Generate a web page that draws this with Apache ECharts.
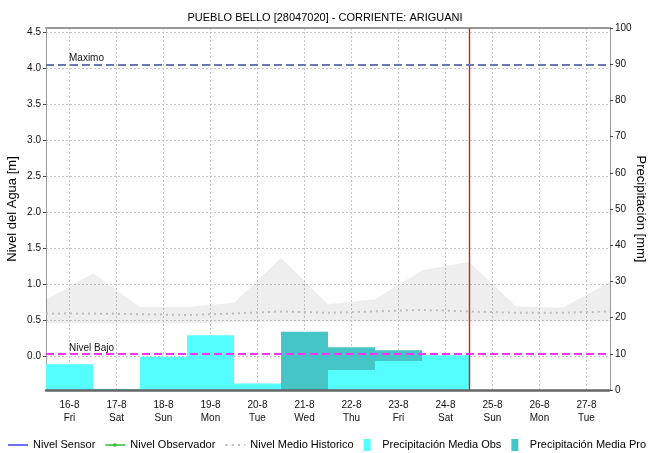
<!DOCTYPE html>
<html>
<head>
<meta charset="utf-8">
<script src="https://cdn.jsdelivr.net/npm/echarts@6/dist/echarts.min.js"></script>
<style>
  html, body { margin: 0; padding: 0; background: #fff; }
  #chart { width: 650px; height: 453px; }
</style>
</head>
<body>
<div id="chart"></div>
<script>
// dias (etiquetas del eje x)
var days = ['16-8', '17-8', '18-8', '19-8', '20-8', '21-8', '22-8', '23-8', '24-8', '25-8', '26-8', '27-8'];
var weekdays = ['Fri', 'Sat', 'Sun', 'Mon', 'Tue', 'Wed', 'Thu', 'Fri', 'Sat', 'Sun', 'Mon', 'Tue'];
// cambios de dia (00:00), 13 puntos
var dayEdges = ['16-8', '17-8', '18-8', '19-8', '20-8', '21-8', '22-8', '23-8', '24-8', '25-8', '26-8', '27-8', '28-8'];

// precipitacion [mm] por dia
var precipObs = [7.1, 0.3, 9.2, 15.1, 1.8, 0, 5.5, 8.0, 9.6, null, null, null];
var precipPro = [null, null, null, null, null, 16.1, 11.8, 11.0, null, null, null, null];

// nivel historico [m] en cada cambio de dia
var histUpper = [0.78, 1.15, 0.68, 0.68, 0.74, 1.36, 0.72, 0.79, 1.19, 1.31, 0.69, 0.67, 1.03];
var histLower = [0.45, 0.45, 0.45, 0.45, 0.47, 0.48, 0.48, 0.48, 0.48, 0.48, 0.48, 0.48, 0.48];
var histMean = [0.59, 0.59, 0.58, 0.57, 0.59, 0.62, 0.60, 0.62, 0.64, 0.62, 0.60, 0.60, 0.62];

// umbrales [m] y hora actual (indice en dayEdges)
var nivelMaximo = 4.05;
var nivelBajo = 0.03;
var nowIndex = 9;

var chart = echarts.init(document.getElementById('chart'));

var rangeData = histUpper.map(function (v, i) { return +(v - histLower[i]).toFixed(3); });

var option = {
  animation: false,
  textStyle: { fontFamily: 'Liberation Sans' },
  title: {
    text: 'PUEBLO BELLO [28047020] - CORRIENTE: ARIGUANI',
    left: 'center',
    top: 7,
    textStyle: { fontSize: 11, fontWeight: 'normal', color: '#000' }
  },
  legend: {
    left: 3,
    top: 434,
    width: 900,
    itemWidth: 20,
    itemHeight: 12,
    itemGap: 10,
    textStyle: { fontSize: 11, color: '#000' },
    data: [
      { name: 'Nivel Sensor', icon: 'path://M0,0h20v1.5h-20z' },
      { name: 'Nivel Observador', icon: 'path://M0,3.25h20v1.5h-20z M8,2.5h3v3h-3z' },
      { name: 'Nivel Medio Historico', icon: 'path://M1,0h2v2h-2z M7,0h2v2h-2z M13,0h2v2h-2z M19,0h1v2h-1z' },
      { name: 'Precipitación Media Obs', icon: 'path://M0,0h7v12h-7z' },
      { name: 'Precipitación Media Pro', icon: 'path://M0,0h7v12h-7z' }
    ]
  },
  grid: { left: 46, right: 40, top: 28, bottom: 63, outerBoundsMode: 'none' },
  xAxis: [
    {
      type: 'category',
      data: days,
      boundaryGap: true,
      axisLine: { show: false, onZero: false },
      axisTick: { show: false },
      axisLabel: {
        fontSize: 10,
        color: '#111',
        lineHeight: 13,
        margin: 9,
        formatter: function (v, i) { return v + '\n' + weekdays[i]; }
      },
      splitLine: { show: true, alignWithLabel: true, lineStyle: { color: '#c8c8c8', type: [2, 2] } }
    },
    {
      type: 'category',
      data: dayEdges,
      boundaryGap: false,
      position: 'top',
      axisLine: { show: true, onZero: false, lineStyle: { color: '#999', width: 2 } },
      axisTick: { show: false },
      axisLabel: { show: false },
      splitLine: { show: false }
    },
    {
      // linea del eje inferior (marcas horarias), encima de las barras
      type: 'category',
      data: days,
      position: 'bottom',
      z: 5,
      axisLine: { show: true, onZero: false, lineStyle: { color: '#666', width: 2.5, type: [1, 1] } },
      axisTick: { show: false },
      axisLabel: { show: false },
      splitLine: { show: false }
    }
  ],
  yAxis: [
    {
      type: 'value',
      min: -0.472,
      max: 4.556,
      splitNumber: 10,
      name: 'Nivel del Agua [m]',
      nameLocation: 'middle',
      nameGap: 27,
      nameMoveOverlap: false,
      nameTextStyle: { fontSize: 13, color: '#000' },
      axisLine: { show: true, lineStyle: { color: '#999' } },
      axisTick: { show: true, length: 3, lineStyle: { color: '#444' } },
      axisLabel: {
        fontSize: 10, color: '#111', margin: 5, showMinLabel: false, showMaxLabel: false,
        formatter: function (v) { return v.toFixed(1); }
      },
      splitLine: { lineStyle: { color: '#c8c8c8', type: [2, 2] } }
    },
    {
      type: 'value',
      min: 0,
      max: 100,
      interval: 10,
      position: 'right',
      name: 'Precipitación [mm]',
      nameLocation: 'middle',
      nameGap: 24,
      nameRotate: -90,
      nameMoveOverlap: false,
      nameTextStyle: { fontSize: 13, color: '#000' },
      axisLine: { show: true, lineStyle: { color: '#999' } },
      axisTick: { show: true, length: 3, lineStyle: { color: '#444' } },
      axisLabel: { fontSize: 10, color: '#111', margin: 5 },
      splitLine: { show: false }
    }
  ],
  series: [
    {
      name: 'Nivel Sensor', type: 'line', data: [], symbol: 'none',
      itemStyle: { color: '#3344ff' }, lineStyle: { color: '#3344ff', width: 1.5 }
    },
    {
      name: 'Nivel Observador', type: 'line', data: [], symbol: 'circle', symbolSize: 4,
      itemStyle: { color: '#33bb33' }, lineStyle: { color: '#33bb33', width: 1.5 }
    },
    {
      name: 'histLower', type: 'line', xAxisIndex: 1, yAxisIndex: 0, stack: 'hist',
      data: histLower, symbol: 'none', lineStyle: { opacity: 0 }, silent: true,
      markLine: {
        silent: true,
        symbol: 'none',
        label: { show: false },
        lineStyle: { color: '#d42020', width: 1.4, type: 'solid', opacity: 1 },
        data: [{ xAxis: nowIndex }]
      }
    },
    {
      name: 'histRange', type: 'line', xAxisIndex: 1, yAxisIndex: 0, stack: 'hist',
      data: rangeData, symbol: 'none', lineStyle: { opacity: 0 },
      areaStyle: { color: 'rgba(0,0,0,0.065)', opacity: 1 }, silent: true
    },
    {
      name: 'Nivel Medio Historico', type: 'line', xAxisIndex: 1, yAxisIndex: 0,
      data: histMean, symbol: 'none',
      itemStyle: { color: '#bbbbbb' },
      lineStyle: { color: '#bbbbbb', width: 2, type: [2, 4] },
      markLine: {
        silent: true,
        symbol: 'none',
        data: [
          {
            name: 'Maximo', yAxis: nivelMaximo,
            lineStyle: { color: '#6a7aad', width: 2, type: [8, 4] }
          },
          {
            name: 'Nivel Bajo', yAxis: nivelBajo,
            lineStyle: { color: '#ff33ff', width: 2, type: [8, 4] }
          }
        ],
        label: {
          show: true,
          position: 'insideStartTop',
          formatter: '{b}',
          fontSize: 10,
          color: '#111',
          padding: [0, 0, 0, 22],
          distance: 1
        }
      }
    },
    {
      name: 'Precipitación Media Pro', type: 'bar', xAxisIndex: 0, yAxisIndex: 1,
      data: precipPro, barWidth: '100%', barGap: '-100%',
      itemStyle: { color: '#45c5c5' }
    },
    {
      name: 'Precipitación Media Obs', type: 'bar', xAxisIndex: 0, yAxisIndex: 1,
      data: precipObs, barWidth: '100%', barGap: '-100%',
      itemStyle: { color: '#55ffff' }
    }
  ]
};

chart.setOption(option);
</script>
</body>
</html>
